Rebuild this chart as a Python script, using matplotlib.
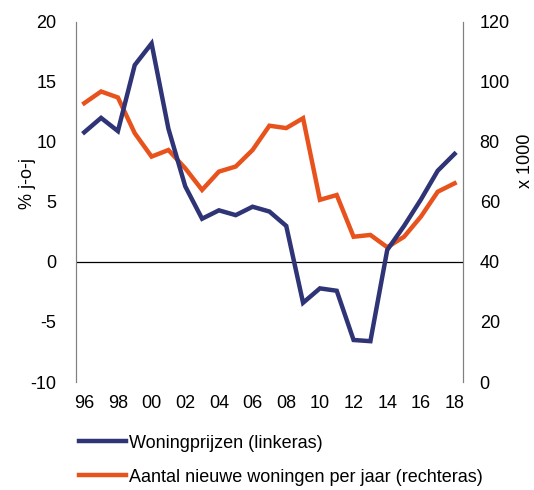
import numpy as np
import matplotlib
matplotlib.use("Agg")
import matplotlib.pyplot as plt

plt.rcParams['font.family'] = ['Liberation Sans', 'DejaVu Sans']
plt.rcParams['axes.unicode_minus'] = False

years = np.arange(1996, 2019)
tick_labels = ['96', '98', '00', '02', '04', '06', '08', '10', '12', '14', '16', '18']

# woningprijzen, % j-o-j (linkeras)
prijzen = [10.8, 12.0, 10.9, 16.4, 18.2, 11.1, 6.3, 3.6, 4.3, 3.9, 4.6, 4.2,
           3.0, -3.4, -2.2, -2.4, -6.5, -6.6, 1.0, 3.0, 5.2, 7.6, 9.0]
# nieuwe woningen per jaar, x 1000 (rechteras)
nieuw = [92.9, 96.8, 94.8, 82.9, 75.1, 77.3, 71.2, 64.0, 70.1, 71.8, 77.3, 85.4,
         84.6, 87.9, 60.7, 62.3, 48.4, 49.0, 44.9, 48.4, 55.1, 63.4, 66.2]

blue = '#2e3475'
orange = '#e8531d'
spine_col = '#808080'
fs = 13

fig = plt.figure(figsize=(5.34, 4.9), dpi=100)
ax = fig.add_axes([0.142, 0.2204, 0.725, 0.735])
ax2 = ax.twinx()

l1, = ax.plot(years, prijzen, color=blue, lw=3.2, solid_joinstyle='miter',
              label='Woningprijzen (linkeras)', zorder=3)
l2, = ax2.plot(years, nieuw, color=orange, lw=3.2, solid_joinstyle='miter',
               label='Aantal nieuwe woningen per jaar (rechteras)')
ax.set_zorder(ax2.get_zorder() + 1)
ax.patch.set_visible(False)

ax.axhline(0, color='black', lw=0.9, zorder=1)

ax.set_xlim(1995.5, 2018.5)
ax.set_ylim(-10, 20)
ax2.set_ylim(0, 120)
ax.set_xticks(years[::2])
ax.set_xticklabels(tick_labels)
ax.set_yticks(range(-10, 21, 5))
ax2.set_yticks(range(0, 121, 20))

for a in (ax, ax2):
    for s in ('top', 'bottom'):
        a.spines[s].set_visible(False)
    a.spines['left'].set_color(spine_col)
    a.spines['right'].set_color(spine_col)
    a.tick_params(length=0, labelsize=fs, colors='black')
ax.tick_params(axis='y', pad=14)
ax.tick_params(axis='x', pad=9)
ax2.tick_params(axis='y', pad=12)

ax.set_ylabel('% j-o-j', fontsize=fs)
ax2.set_ylabel('x 1000', fontsize=fs)
ax.yaxis.set_label_coords(-0.103, 0.55)
ax2.yaxis.set_label_coords(1.139, 0.614)

fig.legend(handles=[l1, l2], loc='upper left', bbox_to_anchor=(0.134, 0.128),
           frameon=False, fontsize=fs, handlelength=2.6, handletextpad=0.2,
           labelspacing=0.95, borderaxespad=0)

fig.savefig('out.png', dpi=100)
